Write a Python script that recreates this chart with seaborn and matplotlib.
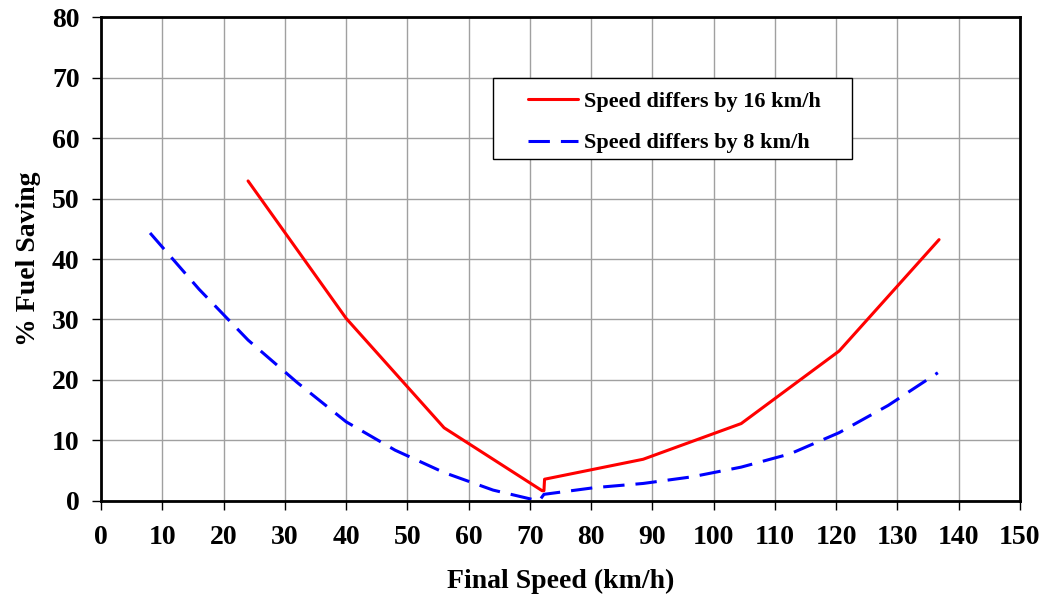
import pandas as pd
import seaborn as sns
import matplotlib.pyplot as plt
from matplotlib.patches import Rectangle

# red line: speed differs by 16 km/h
speed_16 = [24, 40, 56, 72, 72.3, 72.4, 88.5, 104.5, 120.5, 136.8]
saving_16 = [52.9, 30.2, 12.1, 1.7, 1.7, 3.6, 6.9, 12.8, 24.8, 43.2]

# blue dashed line: speed differs by 8 km/h
speed_8 = [8, 16, 24, 32, 40, 48, 56, 64, 71.5, 72.3, 80.5, 88.5, 96.5, 104.5, 112.5, 120.5, 128.5, 136.6]
saving_8 = [44.3, 35.0, 26.6, 19.6, 13.1, 8.4, 4.7, 1.8, 0.0, 1.1, 2.2, 2.9, 4.0, 5.6, 7.8, 11.3, 15.8, 21.2]

sns.set_style("white", {"text.color": "black", "axes.labelcolor": "black",
                        "xtick.color": "black", "ytick.color": "black"})
plt.rcParams["font.family"] = ["Liberation Serif", "DejaVu Serif"]
plt.rcParams["font.weight"] = "bold"

fig = plt.figure(figsize=(10.45, 6.01), dpi=100)
ax = fig.add_axes([0.0967, 0.1664, 0.8793, 0.8053])

sns.lineplot(x=speed_16, y=saving_16, ax=ax, color="#ff0000", linewidth=2.2,
             sort=False, label="Speed differs by 16 km/h")
sns.lineplot(x=speed_8, y=saving_8, ax=ax, color="#0000ff", linewidth=2.2,
             sort=False, label="Speed differs by 8 km/h")
ax.lines[1].set_dashes([7, 3.6])

ax.set_xlim(0, 150)
ax.set_ylim(0, 80)
ax.set_xticks(range(0, 151, 10))
ax.set_yticks(range(0, 81, 10))
ax.grid(True, color="#a0a0a0", linewidth=1)
ax.set_axisbelow(True)

for s in ax.spines.values():
    s.set_color("black")
    s.set_linewidth(2)
ax.tick_params(axis="both", direction="out", length=6.5, width=1, color="black",
               labelcolor="black", labelsize=20, bottom=True, left=True)
ax.tick_params(axis="x", pad=11)
ax.tick_params(axis="y", pad=9)
for lab in ax.get_xticklabels() + ax.get_yticklabels():
    lab.set_fontweight("bold")

ax.set_xlabel("Final Speed (km/h)", fontsize=20, fontweight="bold", labelpad=13, color="black")
ax.set_ylabel("% Fuel Saving", fontsize=20, fontweight="bold", labelpad=8, color="black")

# legend frame drawn separately so the handle can sit further from the edge
ax.add_patch(Rectangle((0.4266, 0.7066), 0.3906, 0.1674, transform=ax.transAxes,
                       facecolor="white", edgecolor="black", linewidth=1, zorder=4))
leg = ax.legend(loc="upper left", bbox_to_anchor=(0.4647, 0.847), fontsize=16,
                frameon=False, handlelength=2.25, labelspacing=0.95, borderpad=0,
                handletextpad=0.25, borderaxespad=0)
leg.set_zorder(5)
for t in leg.get_texts():
    t.set_fontweight("bold")
    t.set_color("black")

fig.savefig("out.png", dpi=100)
